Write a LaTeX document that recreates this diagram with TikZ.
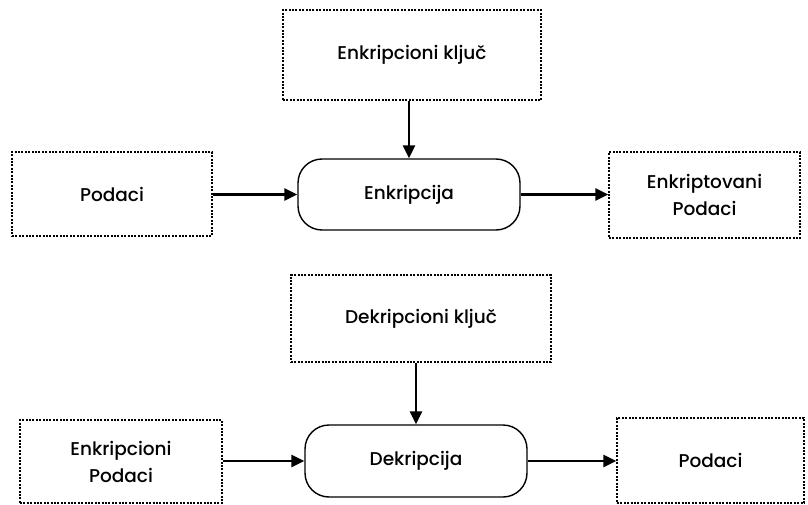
\documentclass[tikz,border=0pt]{standalone}
\usepackage{fontspec}
\setmainfont{Poppins}[UprightFont={* Medium}]
\usetikzlibrary{arrows.meta}
\begin{document}
\begin{tikzpicture}[x=1pt,y=-1pt,
  dotbox/.style={draw, line width=1.4pt, dash pattern=on 2pt off 1.4pt, align=center, font=\fontsize{18.5}{27}\selectfont},
  procbox/.style={draw, line width=1.4pt, rounded corners=24pt, align=center, font=\fontsize{18.5}{27}\selectfont},
  conn/.style={line width=2.6pt, -{Triangle[length=13pt,width=12pt]}}]
\useasboundingbox (0,0) rectangle (808,505);
% top
\node[dotbox, minimum width=258pt, minimum height=90pt] (ek) at (412,55) {Enkripcioni ključ};
\node[dotbox, minimum width=200pt, minimum height=84pt] (p1) at (112,194) {Podaci};
\node[procbox, minimum width=222pt, minimum height=71pt] (enc) at (409,194.5) {Enkripcija};
\node[dotbox, minimum width=191pt, minimum height=86pt] (ep) at (704.5,195) {Enkriptovani\\Podaci};
\draw[conn] (ek.south -| enc.north) -- (enc.north);
\draw[conn] (p1.east |- enc.west) -- (enc.west);
\draw[conn] (enc.east) -- (ep.west |- enc.east);
% bottom
\node[dotbox, minimum width=260pt, minimum height=87pt] (dk) at (421,318.5) {Dekripcioni ključ};
\node[dotbox, minimum width=202pt, minimum height=83pt] (ekp) at (121,461.5) {Enkripcioni\\Podaci};
\node[procbox, minimum width=222pt, minimum height=72pt] (dec) at (416,461) {Dekripcija};
\node[dotbox, minimum width=187pt, minimum height=85pt] (p2) at (710.5,460.5) {Podaci};
\draw[conn] (dk.south -| dec.north) -- (dec.north);
\draw[conn] (ekp.east |- dec.west) -- (dec.west);
\draw[conn] (dec.east) -- (p2.west |- dec.east);
\end{tikzpicture}
\end{document}
